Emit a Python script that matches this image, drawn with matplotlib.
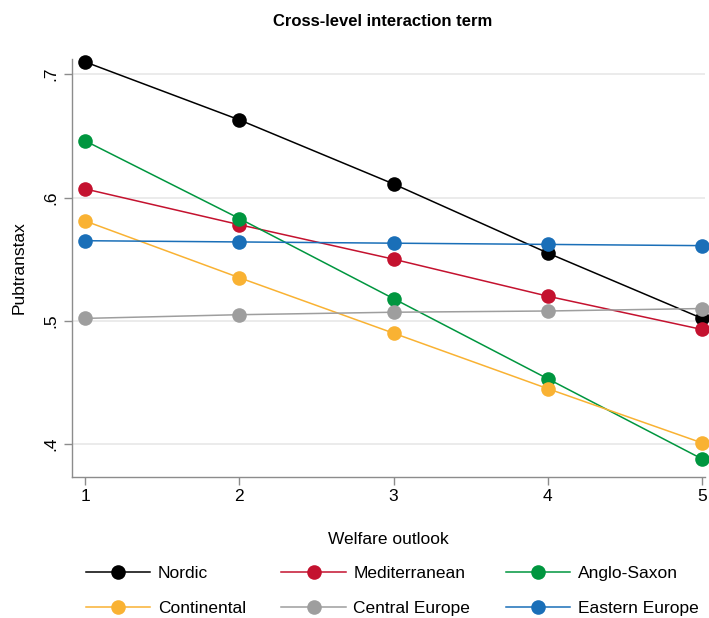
import matplotlib.pyplot as plt
from matplotlib.lines import Line2D

plt.rcParams['font.family'] = ['Liberation Sans', 'DejaVu Sans']

# welfare outlook levels
outlook = [1, 2, 3, 4, 5]

# predicted pubtranstax by welfare regime
nordic = [0.710, 0.663, 0.611, 0.555, 0.502]
mediterranean = [0.607, 0.578, 0.550, 0.520, 0.493]
anglo_saxon = [0.646, 0.583, 0.518, 0.453, 0.388]
continental = [0.581, 0.535, 0.490, 0.445, 0.401]
central_europe = [0.502, 0.505, 0.507, 0.508, 0.510]
eastern_europe = [0.565, 0.564, 0.563, 0.562, 0.561]

regimes = ['Nordic', 'Mediterranean', 'Anglo-Saxon',
           'Continental', 'Central Europe', 'Eastern Europe']
series = [nordic, mediterranean, anglo_saxon,
          continental, central_europe, eastern_europe]
colors = ['#000000', '#c4122f', '#00963f', '#f9b233', '#9e9e9e', '#1a6fb8']

yticks = [0.4, 0.5, 0.6, 0.7]
ytick_labels = ['.4', '.5', '.6', '.7']

fig = plt.figure(figsize=(7.09, 6.18), dpi=100)
ax = fig.add_axes([0.1016, 0.2286, 0.893, 0.676])

handles = []
for name, vals, c in zip(regimes, series, colors):
    ax.plot(outlook, vals, color=c, lw=1.1, marker='o', markersize=10.5,
            markeredgewidth=0, label=name, clip_on=False)
    handles.append(Line2D([], [], color=c, lw=1.1, marker='o',
                          markersize=10.5, markeredgewidth=0))

ax.set_xlim(0.915, 5.02)
ax.set_ylim(0.3736, 0.7124)
ax.set_xticks(outlook)
ax.set_yticks(yticks)
ax.set_yticklabels(ytick_labels, rotation=90, va='center')
ax.grid(axis='y', color='#e6e6e6', lw=1.1)
ax.set_axisbelow(True)

for s in ['top', 'right']:
    ax.spines[s].set_visible(False)
for s in ['left', 'bottom']:
    ax.spines[s].set_color('#8c8c8c')
    ax.spines[s].set_linewidth(1.0)
ax.tick_params(colors='#8c8c8c', labelcolor='black', labelsize=12.5,
               length=6, width=1.0)
ax.tick_params(axis='y', pad=4)
ax.tick_params(axis='x', pad=3)

ax.set_xlabel('Welfare outlook', fontsize=12.5, labelpad=20)
ax.set_ylabel('Pubtranstax', fontsize=12.5, labelpad=12)
ax.set_title('Cross-level interaction term', fontsize=12, fontweight='bold',
             pad=24, x=0.49)

# legend filled column-wise, so reorder to get the row layout
order = [0, 3, 1, 4, 2, 5]
fig.legend([handles[i] for i in order], [regimes[i] for i in order],
           ncol=3, loc='lower left', bbox_to_anchor=(0.111, -0.008),
           frameon=False, fontsize=12.5, handlelength=3.7, handletextpad=0.45,
           columnspacing=2.05, labelspacing=1.15, borderaxespad=0.0)

fig.savefig('out.png', dpi=100)
